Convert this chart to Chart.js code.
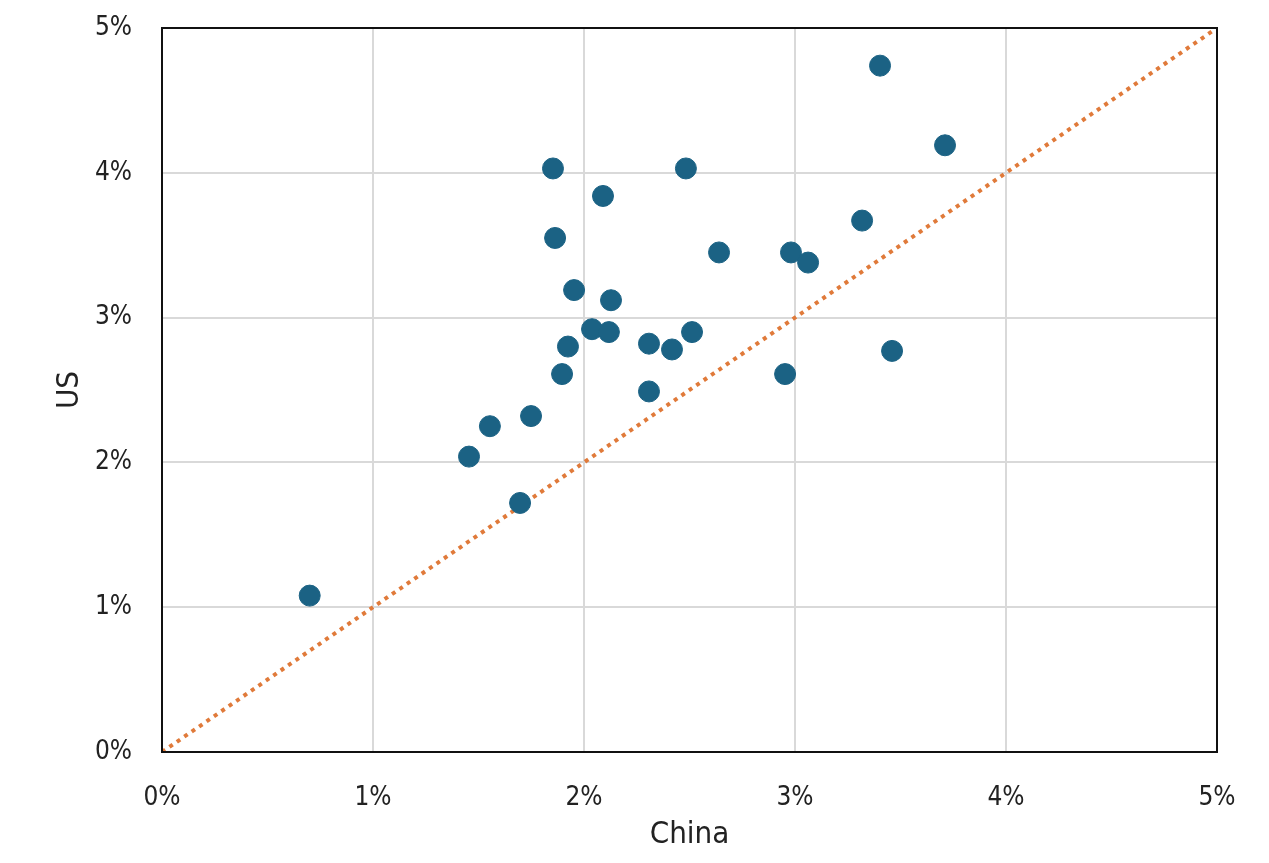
<!DOCTYPE html>
<html>
<head>
<meta charset="utf-8">
<script src="https://cdn.jsdelivr.net/npm/chart.js@4"></script>
<style>
  html, body { margin: 0; padding: 0; background: #fff; }
  #wrap { width: 1269px; height: 863px; }
</style>
</head>
<body>
<div id="wrap"><canvas id="myChart" width="1269" height="863"></canvas></div>
<script>
// China vs US, % values
const china = [0.70, 1.455, 1.554, 1.697, 1.749, 1.853, 1.863, 1.896, 1.924, 1.953,
  2.038, 2.090, 2.118, 2.128, 2.308, 2.308, 2.417, 2.483, 2.512, 2.640,
  2.953, 2.981, 3.062, 3.318, 3.403, 3.460, 3.711];
const us = [1.08, 2.04, 2.25, 1.72, 2.32, 4.03, 3.55, 2.61, 2.80, 3.19,
  2.92, 3.84, 2.90, 3.12, 2.82, 2.49, 2.78, 4.03, 2.90, 3.45,
  2.61, 3.45, 3.38, 3.67, 4.74, 2.77, 4.19];
const parity = [0, 5];
const tickVals = [0, 1, 2, 3, 4, 5];

const font = "'DejaVu Sans Condensed', sans-serif";

const boxBorder = {
  id: "boxBorder",
  afterDraw(chart) {
    const { ctx, chartArea: a } = chart;
    ctx.save();
    ctx.strokeStyle = "#111";
    ctx.lineWidth = 2;
    ctx.strokeRect(a.left, a.top, a.right - a.left, a.bottom - a.top);
    ctx.restore();
  },
};

const noPad = (s) => {
  s.paddingTop = 0;
  s.paddingBottom = 0;
  s.paddingLeft = 0;
  s.paddingRight = 0;
};

const ctx = document.getElementById("myChart").getContext("2d");

new Chart(ctx, {
  type: "scatter",
  plugins: [boxBorder],
  data: {
    datasets: [
      {
        label: "Parity",
        type: "line",
        data: parity.map((v) => ({ x: v, y: v })),
        borderColor: "#e07a3a",
        borderWidth: 4,
        borderDash: [4, 5],
        pointRadius: 0,
        fill: false,
        order: 2,
      },
      {
        label: "Points",
        data: china.map((x, i) => ({ x, y: us[i] })),
        backgroundColor: "#1b6284",
        borderColor: "#1b6284",
        pointRadius: 10.5,
        order: 1,
      },
    ],
  },
  options: {
    responsive: false,
    animation: false,
    layout: { padding: { top: 28, right: 52, left: 47, bottom: 5 } },
    plugins: { legend: { display: false }, tooltip: { enabled: false } },
    scales: {
      x: {
        type: "linear",
        min: 0,
        max: 5,
        afterBuildTicks: (s) => { s.ticks = tickVals.map((v) => ({ value: v })); },
        afterFit: (s) => { noPad(s); s.height = 863 - 752 - 5; },
        grid: { color: "#d9d9d9", lineWidth: 2, drawTicks: false },
        border: { display: false },
        ticks: {
          color: "#222",
          font: { family: font, size: 26 },
          padding: 31,
          callback: (v) => v + "%",
        },
        title: {
          display: true,
          text: "China",
          color: "#222",
          font: { family: font, size: 31 },
          padding: { top: 6 },
        },
      },
      y: {
        type: "linear",
        min: 0,
        max: 5,
        afterBuildTicks: (s) => { s.ticks = tickVals.map((v) => ({ value: v })); },
        afterFit: (s) => { noPad(s); s.width = 162 - 47; },
        grid: { color: "#d9d9d9", lineWidth: 2, drawTicks: false },
        border: { display: false },
        ticks: {
          color: "#222",
          font: { family: font, size: 26 },
          padding: 30,
          callback: (v) => v + "%",
        },
        title: {
          display: true,
          text: "US",
          color: "#222",
          font: { family: font, size: 31 },
          padding: { bottom: 0 },
        },
      },
    },
  },
});
</script>
</body>
</html>
